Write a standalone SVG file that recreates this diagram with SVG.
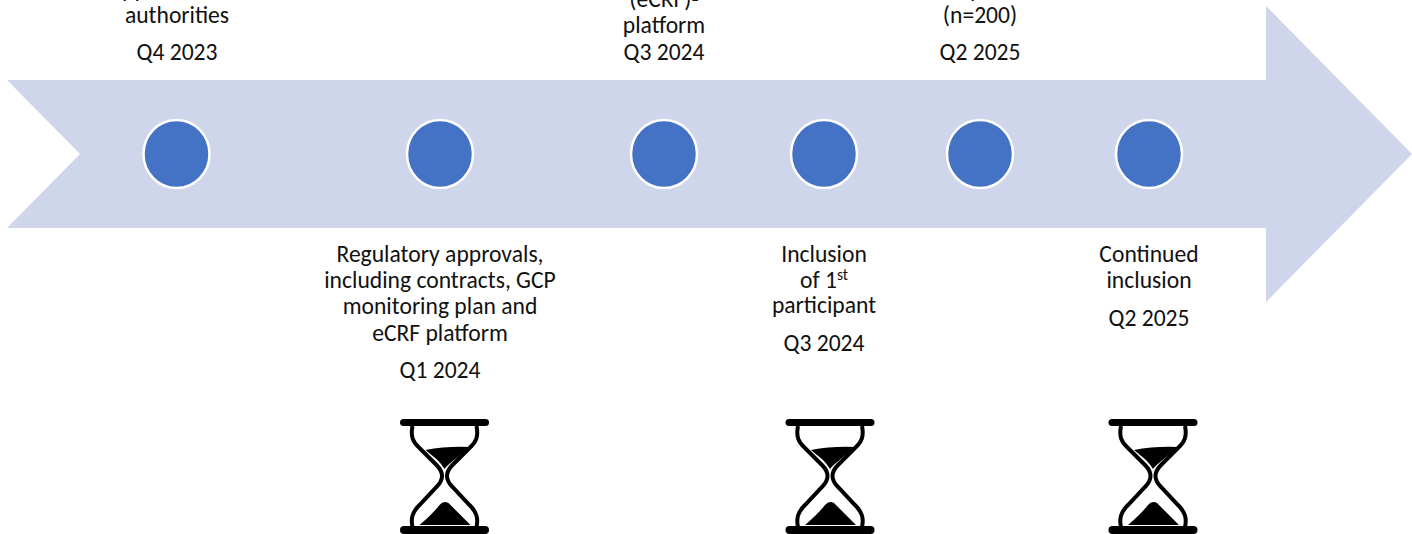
<svg xmlns="http://www.w3.org/2000/svg" width="1412" height="534" viewBox="0 0 1412 534">
<style>
.t{font-family:"Carlito","Lato","Open Sans","Liberation Sans",sans-serif;font-size:23.6px;fill:#111;text-anchor:middle}
.d{fill:#4472c4;stroke:#fff;stroke-width:2.500}
.b{fill:#cfd5ea}
</style>
<defs>
<g id="hg">
<rect x="-44.500" y="-3" width="89" height="7" rx="3.500" fill="#000"/>
<rect x="-44.500" y="104" width="89" height="8" rx="4" fill="#000"/>
<path d="M-32 4C-34 14-32 20-25 26L-8 43C-3 48-2.500 51-2.500 54C-2.500 58-4 61-8 65L-25 83C-32 90-34 96-32 105M32 4C34 14 32 20 25 26L8 43C3 48 2.500 51 2.500 54C2.500 58 4 61 8 65L25 83C32 90 34 96 32 105" fill="none" stroke="#000" stroke-width="4"/>
<path d="M-19 28Q2 24 25 25L6 41Q2 44 0 47Q-3 42-7 38Z" fill="#000"/>
<path d="M-25 103Q-12 92-5 83Q-1 78 4 81Q15 92 26 103Z" fill="#000"/>
</g>
</defs>
<g id="connectors"></g>
<path id="arrow" class="b" d="M7 80H1266V6L1412 154L1266 302V228H7L80 154Z"/>
<g id="n1"><ellipse class="d" cx="176.500" cy="154" rx="33" ry="34"/><text class="t" x="177" y="-3">Approval from</text><text class="t" x="177" y="23">authorities</text><text class="t" x="177" y="60">Q4 2023</text></g>
<g id="n2"><ellipse class="d" cx="440" cy="154" rx="33" ry="34"/><text class="t" x="440" y="262">Regulatory approvals,</text><text class="t" x="440" y="288">including contracts, GCP</text><text class="t" x="440" y="314">monitoring plan and</text><text class="t" x="440" y="341">eCRF platform</text><text class="t" x="440" y="378">Q1 2024</text><use href="#hg" x="444.500" y="422"/></g>
<g id="n3"><ellipse class="d" cx="664" cy="154" rx="33" ry="34"/><text class="t" x="664" y="7">(eCRF)-</text><text class="t" x="664" y="33">platform</text><text class="t" x="664" y="60">Q3 2024</text></g>
<g id="n4"><ellipse class="d" cx="824" cy="154" rx="33" ry="34"/><text class="t" x="824" y="262">Inclusion</text><text class="t" x="824" y="288">of 1<tspan font-size="15.500" dy="-8">st</tspan></text><text class="t" x="824" y="313">participant</text><text class="t" x="824" y="351">Q3 2024</text><use href="#hg" x="830" y="422"/></g>
<g id="n5"><ellipse class="d" cx="980" cy="154" rx="33" ry="34"/><text class="t" x="980" y="-3">completed</text><text class="t" x="980" y="23">(n=200)</text><text class="t" x="980" y="60">Q2 2025</text></g>
<g id="n6"><ellipse class="d" cx="1149" cy="154" rx="33" ry="34"/><text class="t" x="1149" y="262">Continued</text><text class="t" x="1149" y="288">inclusion</text><text class="t" x="1149" y="326">Q2 2025</text><use href="#hg" x="1153" y="422"/></g>
</svg>
